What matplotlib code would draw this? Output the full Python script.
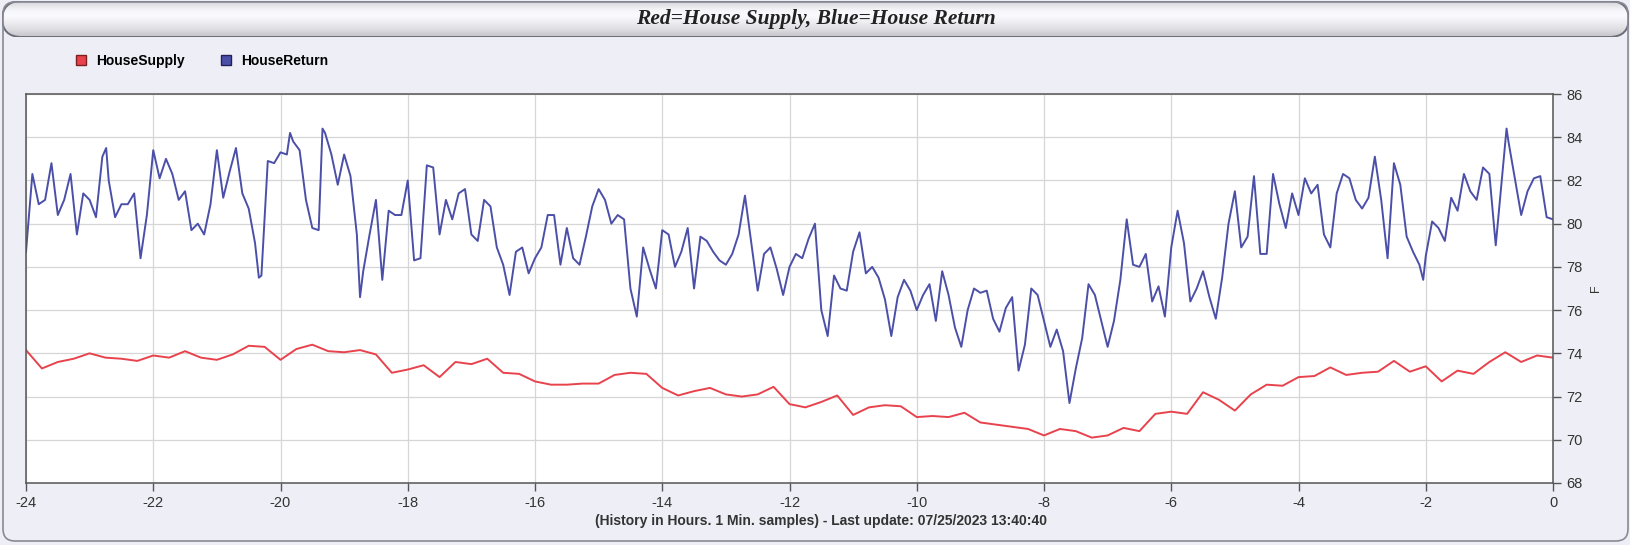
import numpy as np
import matplotlib.pyplot as plt
from matplotlib.patches import FancyBboxPatch
from matplotlib.lines import Line2D

# House return temperature, every 6 minutes (one row per hour, -24 h .. -1 h)
return_vals = [
    78.7, 82.3, 80.9, 81.1, 82.8, 80.4, 81.1, 82.3, 79.5, 81.4,
    81.1, 80.3, 83.1, 82.0, 80.3, 80.9, 80.9, 81.4, 78.4, 80.4,
    83.4, 82.1, 83.0, 82.3, 81.1, 81.5, 79.7, 80.0, 79.5, 80.9,
    83.4, 81.2, 82.4, 83.5, 81.4, 80.7, 79.1, 77.6, 82.9, 82.8,
    83.3, 83.2, 83.8, 83.4, 81.1, 79.8, 79.7, 84.2, 83.2, 81.8,
    83.2, 82.2, 79.5, 77.8, 79.5, 81.1, 77.4, 80.6, 80.4, 80.4,
    82.0, 78.3, 78.4, 82.7, 82.6, 79.5, 81.1, 80.2, 81.4, 81.6,
    79.5, 79.2, 81.1, 80.8, 78.9, 78.1, 76.7, 78.7, 78.9, 77.7,
    78.4, 78.9, 80.4, 80.4, 78.1, 79.8, 78.4, 78.1, 79.4, 80.8,
    81.6, 81.1, 80.0, 80.4, 80.2, 77.0, 75.7, 78.9, 77.9, 77.0,
    79.7, 79.5, 78.0, 78.7, 79.8, 77.0, 79.4, 79.2, 78.7, 78.3,
    78.1, 78.6, 79.5, 81.3, 79.1, 76.9, 78.6, 78.9, 77.9, 76.7,
    78.0, 78.6, 78.4, 79.3, 80.0, 76.0, 74.8, 77.6, 77.0, 76.9,
    78.7, 79.6, 77.7, 78.0, 77.5, 76.5, 74.8, 76.6, 77.4, 76.9,
    76.0, 76.7, 77.2, 75.5, 77.8, 76.7, 75.2, 74.3, 76.0, 77.0,
    76.8, 76.9, 75.6, 75.0, 76.1, 76.6, 73.2, 74.4, 77.0, 76.7,
    75.5, 74.3, 75.1, 74.1, 71.7, 73.3, 74.7, 77.2, 76.7, 75.5,
    74.3, 75.5, 77.4, 80.2, 78.1, 78.0, 78.6, 76.4, 77.1, 75.7,
    78.9, 80.6, 79.1, 76.4, 77.0, 77.8, 76.6, 75.6, 77.5, 80.0,
    81.5, 78.9, 79.4, 82.2, 78.6, 78.6, 82.3, 80.9, 79.8, 81.4,
    80.4, 82.1, 81.4, 81.8, 79.5, 78.9, 81.4, 82.3, 82.1, 81.1,
    80.7, 81.2, 83.1, 81.1, 78.4, 82.8, 81.8, 79.4, 78.7, 78.1,
    78.5, 80.1, 79.8, 79.2, 81.2, 80.6, 82.3, 81.5, 81.1, 82.6,
    82.3, 79.0, 82.2, 83.8, 82.1, 80.4, 81.5, 82.1, 82.2, 80.3,
    80.2,
]
return_hours = np.arange(len(return_vals)) * 0.1 - 24

# a few sharp peaks/dips that fall between the 6 min samples
peak_hours = [-22.74, -20.34, -19.85, -19.34, -18.75, -2.04, -0.73]
peak_vals = [83.5, 77.5, 84.2, 84.4, 76.6, 77.4, 84.4]

# House supply temperature, every 15 minutes
supply_vals = [
    74.15, 73.3, 73.6, 73.75,
    74.0, 73.8, 73.75, 73.65,
    73.9, 73.8, 74.1, 73.8,
    73.7, 73.95, 74.35, 74.3,
    73.7, 74.2, 74.4, 74.1,
    74.05, 74.15, 73.95, 73.1,
    73.25, 73.45, 72.9, 73.6,
    73.5, 73.75, 73.1, 73.05,
    72.7, 72.55, 72.55, 72.6,
    72.6, 73.0, 73.1, 73.05,
    72.4, 72.05, 72.25, 72.4,
    72.1, 72.0, 72.1, 72.45,
    71.65, 71.5, 71.75, 72.05,
    71.15, 71.5, 71.6, 71.55,
    71.05, 71.1, 71.05, 71.25,
    70.8, 70.7, 70.6, 70.5,
    70.2, 70.5, 70.4, 70.1,
    70.2, 70.55, 70.4, 71.2,
    71.3, 71.2, 72.2, 71.85,
    71.35, 72.1, 72.55, 72.5,
    72.9, 72.95, 73.35, 73.0,
    73.1, 73.15, 73.65, 73.15,
    73.4, 72.7, 73.2, 73.05,
    73.6, 74.05, 73.6, 73.9,
    73.8,
]
supply_hours = np.arange(len(supply_vals)) * 0.25 - 24

x_ticks = list(range(-24, 1, 2))
y_ticks = list(range(68, 87, 2))

t = np.concatenate([return_hours, peak_hours])
v = np.concatenate([return_vals, peak_vals])
order = np.argsort(t, kind='stable')
t, v = t[order], v[order]

W, H = 1631, 545
plt.rcParams['font.family'] = ['Liberation Sans', 'DejaVu Sans']
plt.rcParams['axes.unicode_minus'] = False
fig = plt.figure(figsize=(W / 100, H / 100), dpi=100)
fig.patch.set_facecolor('#eeeef6')

# outer rounded frame
frame = FancyBboxPatch((0.03, 0.04), W / 100 - 0.06, H / 100 - 0.06,
                       boxstyle='round,pad=0,rounding_size=0.12',
                       transform=fig.dpi_scale_trans, facecolor='none',
                       edgecolor='#8a8a96', lw=1.2, zorder=0)
fig.patches.append(frame)

# title bar with gradient
bar_ax = fig.add_axes([2 / W, 1 - 37 / H, (W - 4) / W, 36 / H])
bar_ax.set_axis_off()
grad = np.array([0.86, 0.93, 0.98, 1.0, 0.99, 0.96, 0.93, 0.9, 0.86, 0.8])[:, None]
rgb = np.dstack([grad * 0.98, grad * 0.98, grad * 1.0])
img = bar_ax.imshow(rgb, aspect='auto', extent=(0, 1, 0, 1), interpolation='bicubic')
clip = FancyBboxPatch((0, 0), 1, 1, boxstyle='round,pad=0,rounding_size=0.012',
                      transform=bar_ax.transAxes, facecolor='none',
                      edgecolor='#6c6c78', lw=1.4, mutation_aspect=45)
bar_ax.add_patch(clip)
img.set_clip_path(clip)
bar_ax.set_xlim(0, 1)
bar_ax.set_ylim(0, 1)
fig.text(816 / W, 1 - 19 / H, 'Red=House Supply, Blue=House Return',
         family='Liberation Serif', style='italic', weight='bold', size=15.5,
         ha='center', va='center', color='#222222')

# main plot
ax = fig.add_axes([26 / W, 1 - 483 / H, 1527 / W, 389 / H])
ax.set_facecolor('white')
ax.plot(t, v, color='#4b4fa8', lw=1.4)
ax.plot(supply_hours, supply_vals, color='#e8434d', lw=1.4)
ax.set_xlim(-24, 0)
ax.set_ylim(68, 86)
ax.set_xticks(x_ticks)
ax.set_yticks(y_ticks)
ax.yaxis.tick_right()
ax.grid(color='#d6d6d6', lw=0.9)
ax.set_axisbelow(True)
ax.tick_params(direction='out', length=6, width=1, color='#555555',
               labelsize=10.5, labelcolor='#333333')
for s in ax.spines.values():
    s.set_color('#555555')
    s.set_linewidth(1.1)
ax.text(1.028, 0.5, 'F', rotation=90, transform=ax.transAxes,
        ha='center', va='center', fontsize=9, color='#333333')

# legend
handles = [Line2D([], [], ls='none', marker='s', ms=7, mfc='#e8434d', mec='#7a2020'),
           Line2D([], [], ls='none', marker='s', ms=7, mfc='#4b4fa8', mec='#20205a')]
fig.legend(handles, ['HouseSupply', 'HouseReturn'], loc='center left',
           bbox_to_anchor=(55 / W, 1 - 61 / H), ncol=2, frameon=False,
           handletextpad=0.05, columnspacing=2.0,
           prop={'weight': 'bold', 'size': 10})

fig.text(821 / W, 1 - 521 / H,
         '(History in Hours. 1 Min. samples) - Last update: 07/25/2023 13:40:40',
         ha='center', va='center', fontsize=10, weight='bold', color='#333333')

fig.savefig('out.png', dpi=100, facecolor=fig.get_facecolor())
